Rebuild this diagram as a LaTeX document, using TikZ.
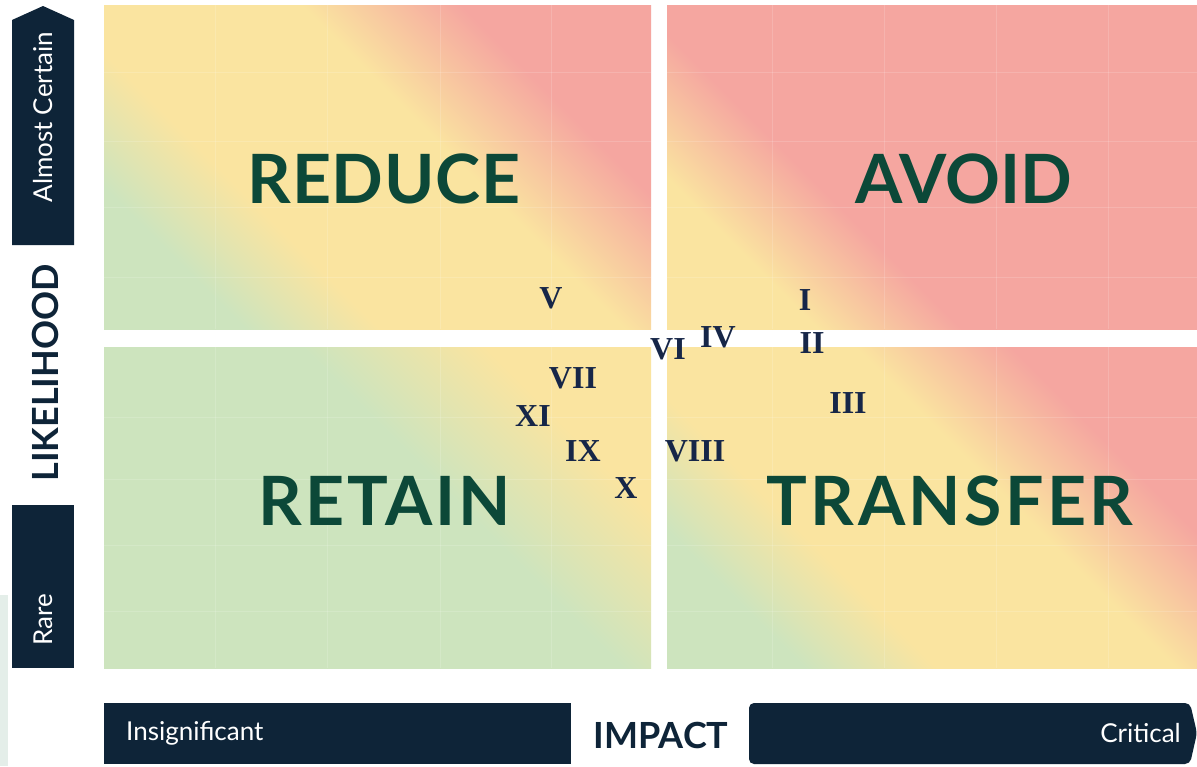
\documentclass[tikz,border=0pt]{standalone}
\usepackage{fontspec}
\setmainfont{Lato}
\newfontfamily\numfont{Liberation Serif}
\definecolor{qgreen}{RGB}{205,228,190}
\definecolor{qyellow}{RGB}{250,228,160}
\definecolor{qred}{RGB}{245,166,160}
\definecolor{navy}{RGB}{14,36,56}
\definecolor{dgreen}{RGB}{12,72,56}
\definecolor{numblue}{RGB}{22,38,72}
\definecolor{faint}{RGB}{228,238,233}
\pgfdeclarehorizontalshading{shfull}{100bp}{color(0bp)=(qgreen); color(25bp)=(qgreen); color(26bp)=(qgreen); color(37bp)=(qyellow); color(57bp)=(qyellow); color(70bp)=(qred); color(100bp)=(qred)}
\pgfdeclarehorizontalshading{shtr}{100bp}{color(0bp)=(qyellow); color(25bp)=(qyellow); color(27bp)=(qyellow); color(39bp)=(qred); color(100bp)=(qred)}
\pgfdeclarehorizontalshading{shbl}{100bp}{color(0bp)=(qgreen); color(57bp)=(qgreen); color(72bp)=(qyellow); color(100bp)=(qyellow)}
\tikzset{
  quad/.style={draw=none, shading angle=45},
  bar/.style={fill=navy, draw=none},
  bartext/.style={text=white, inner sep=0pt, font=\fontsize{26}{26}\selectfont},
  biglabel/.style={text=dgreen, inner sep=0pt, font=\bfseries\fontsize{68}{68}\selectfont\addfontfeatures{LetterSpace=#1}},
  biglabel/.default=1,
  num/.style={text=numblue, inner sep=0pt, font=\numfont\bfseries\fontsize{32}{32}\selectfont},
  gridline/.style={white, opacity=0.15, line width=1pt}
}
\begin{document}
\begin{tikzpicture}[x=1pt,y=-1pt]
\useasboundingbox (0,0) rectangle (1197,766);
\fill[white] (0,0) rectangle (1197,766);
\fill[faint] (0,595) rectangle (8,766);
% quadrants
\shade[quad, shading=shfull] (104,5) rectangle (651,329);
\shade[quad, shading=shtr] (667,5) rectangle (1197,329);
\shade[quad, shading=shbl] (104,347) rectangle (651,668);
\shade[quad, shading=shfull] (667,347) rectangle (1197,668);
% faint grid lines
\foreach \gx in {215,327,440,551} {
  \draw[gridline] (\gx,5) -- (\gx,329);
  \draw[gridline] (\gx,347) -- (\gx,668);
}
\foreach \gx in {772,884,996,1108} {
  \draw[gridline] (\gx,5) -- (\gx,329);
  \draw[gridline] (\gx,347) -- (\gx,668);
}
\foreach \gy in {72,141,207,277} {
  \draw[gridline] (104,\gy) -- (651,\gy);
  \draw[gridline] (667,\gy) -- (1197,\gy);
}
\foreach \gy in {417,479,545,611} {
  \draw[gridline] (104,\gy) -- (651,\gy);
  \draw[gridline] (667,\gy) -- (1197,\gy);
}
% left bars
\path[bar] (12,245) -- (12,20) -- (43,6) -- (74,20) -- (74,245) -- cycle;
\path[bar] (12,505) rectangle (74,668);
\node[bartext, rotate=90] (almost) at (43,117) {Almost Certain};
\node[bartext, rotate=90] (rare) at (43,620) {Rare};
\node[text=navy, inner sep=0pt, rotate=90, font=\bfseries\fontsize{36}{36}\selectfont] (likelihood) at (45,373) {LIKELIHOOD};
% bottom bars
\path[bar] (104,703) rectangle (571,764);
\path[bar, rounded corners=5pt] (749,703) -- (1190,703) -- (1197,733) -- (1190,764) -- (749,764) -- cycle;
\node[bartext, anchor=west] (insig) at (126,733) {Insignificant};
\node[bartext, anchor=east] (critical) at (1181,733) {Critical};
\node[text=navy, inner sep=0pt, font=\bfseries\fontsize{36}{36}\selectfont] (impact) at (661,735) {IMPACT};
% quadrant labels
\node[biglabel=1] (reduce) at (384,179) {REDUCE};
\node[biglabel=0.5] (avoid) at (964,179) {AVOID};
\node[biglabel=4] (retain) at (385,501) {RETAIN};
\node[biglabel=5] (transfer) at (950,501) {TRANSFER};
% risk numerals
\node[num] (r1) at (805,300) {I};
\node[num] (r2) at (812,343) {II};
\node[num] (r3) at (848,403) {III};
\node[num] (r4) at (718,337) {IV};
\node[num] (r5) at (551,298) {V};
\node[num] (r6) at (668,349) {VI};
\node[num] (r7) at (573,378) {VII};
\node[num] (r8) at (695,451) {VIII};
\node[num] (r9) at (583,451) {IX};
\node[num] (r10) at (626,488) {X};
\node[num] (r11) at (533,416) {XI};
\end{tikzpicture}
\end{document}
